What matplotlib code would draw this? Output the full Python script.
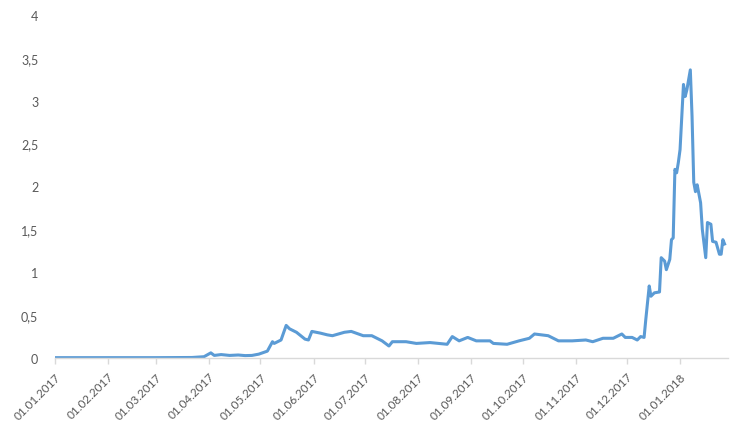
import pandas as pd
import matplotlib
matplotlib.use("Agg")
import matplotlib.pyplot as plt
import matplotlib.dates as mdates
from matplotlib.ticker import FuncFormatter, MultipleLocator


dates = [
    "2017-01-01", "2017-01-20", "2017-02-10", "2017-03-01", "2017-03-22", "2017-03-29",
    "2017-04-02", "2017-04-04", "2017-04-08", "2017-04-13", "2017-04-18", "2017-04-22",
    "2017-04-26", "2017-04-30", "2017-05-05", "2017-05-08", "2017-05-09", "2017-05-13",
    "2017-05-16", "2017-05-18", "2017-05-22", "2017-05-27", "2017-05-29", "2017-05-31",
    "2017-06-05", "2017-06-09", "2017-06-12", "2017-06-19", "2017-06-23", "2017-06-30",
    "2017-07-05", "2017-07-11", "2017-07-15", "2017-07-17", "2017-07-25", "2017-07-31",
    "2017-08-08", "2017-08-18", "2017-08-21", "2017-08-25", "2017-08-30", "2017-09-04",
    "2017-09-12", "2017-09-14", "2017-09-22", "2017-09-29", "2017-10-05", "2017-10-08",
    "2017-10-16", "2017-10-22", "2017-10-30", "2017-11-07", "2017-11-11", "2017-11-17",
    "2017-11-23", "2017-11-28", "2017-11-30", "2017-12-04", "2017-12-07", "2017-12-09",
    "2017-12-11", "2017-12-12", "2017-12-14", "2017-12-15", "2017-12-17", "2017-12-20",
    "2017-12-21", "2017-12-23", "2017-12-24", "2017-12-26", "2017-12-27", "2017-12-28",
    "2017-12-29", "2017-12-30", "2017-12-31", "2018-01-01", "2018-01-02", "2018-01-03",
    "2018-01-04", "2018-01-05", "2018-01-07", "2018-01-08", "2018-01-09", "2018-01-10",
    "2018-01-11", "2018-01-13", "2018-01-14", "2018-01-16", "2018-01-17", "2018-01-19",
    "2018-01-20", "2018-01-22", "2018-01-24", "2018-01-25", "2018-01-26", "2018-01-27",
]
price = [
    0.004, 0.004, 0.004, 0.004, 0.006, 0.015,
    0.06, 0.03, 0.04, 0.03, 0.035, 0.028,
    0.03, 0.045, 0.08, 0.19, 0.17, 0.21,
    0.38, 0.34, 0.30, 0.22, 0.21, 0.31,
    0.29, 0.27, 0.26, 0.30, 0.31, 0.26,
    0.26, 0.20, 0.14, 0.19, 0.19, 0.17,
    0.18, 0.16, 0.25, 0.20, 0.24, 0.20,
    0.20, 0.17, 0.16, 0.20, 0.23, 0.28,
    0.26, 0.20, 0.20, 0.21, 0.19, 0.23,
    0.23, 0.28, 0.24, 0.24, 0.21, 0.25,
    0.24, 0.45, 0.84, 0.72, 0.76, 0.77,
    1.17, 1.13, 1.03, 1.15, 1.38, 1.40,
    2.20, 2.16, 2.28, 2.43, 2.81, 3.19,
    3.05, 3.13, 3.36, 2.82, 2.05, 1.94,
    2.02, 1.81, 1.50, 1.17, 1.58, 1.56,
    1.36, 1.35, 1.21, 1.21, 1.38, 1.33,
]

df = pd.DataFrame({"date": pd.to_datetime(dates), "price": price})

plt.rcParams["font.family"] = ["Lato", "DejaVu Sans"]

fig = plt.figure(figsize=(7.5, 4.27), dpi=100)
ax = fig.add_axes([55 / 750, 1 - 359 / 427, 673 / 750, 343 / 427])

ax.plot(df["date"], df["price"], color="#5b9bd5", linewidth=2.2, solid_joinstyle="round")

ax.set_xlim(pd.Timestamp("2017-01-01"), pd.Timestamp("2018-01-29"))
ax.set_ylim(0, 4)

ax.xaxis.set_major_locator(mdates.MonthLocator())
ax.xaxis.set_major_formatter(mdates.DateFormatter("%d.%m.%Y"))
ax.yaxis.set_major_locator(MultipleLocator(0.5))
ax.yaxis.set_major_formatter(FuncFormatter(lambda v, p: f"{v:g}".replace(".", ",")))

for side in ["top", "right", "left"]:
    ax.spines[side].set_visible(False)
ax.spines["bottom"].set_color("#d9d9d9")
ax.spines["bottom"].set_linewidth(1)

ax.tick_params(axis="x", colors="#d9d9d9", length=4, width=1, labelcolor="#595959",
               labelsize=8.5, pad=5)
ax.tick_params(axis="y", length=0, labelcolor="#595959", labelsize=9, pad=12)
plt.setp(ax.get_xticklabels(), rotation=45, ha="right", rotation_mode="anchor")

fig.savefig("out.png", dpi=100)
